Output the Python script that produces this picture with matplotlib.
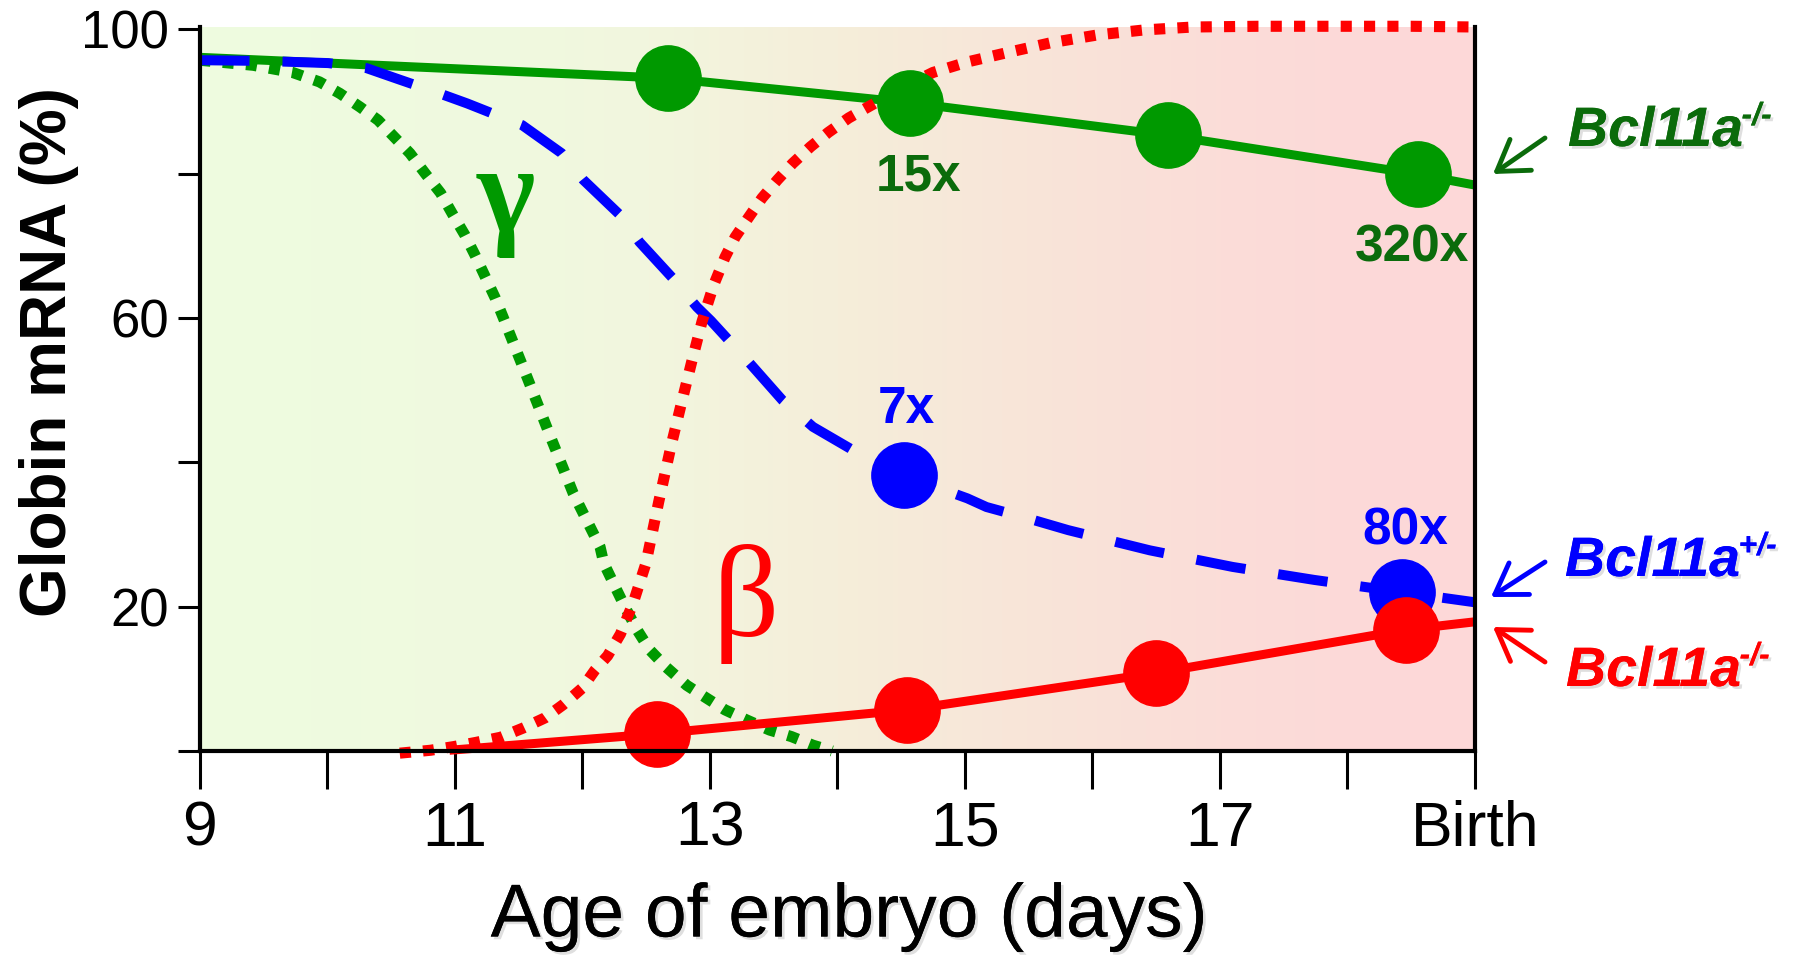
import matplotlib
matplotlib.use("Agg")
import matplotlib.pyplot as plt
import matplotlib.patheffects as pe
from matplotlib.colors import LinearSegmentedColormap
import numpy as np

plt.rcParams['font.family'] = ['Liberation Sans', 'DejaVu Sans']

W, H = 1798, 967

# axes
xticks = [9, 10, 11, 12, 13, 14, 15, 16, 17, 18, 19]
xticklabels = ['9', '', '11', '', '13', '', '15', '', '17', '', 'Birth']
yticks = [0, 20, 40, 60, 80, 100]
yticklabels = ['', '20', '', '60', '', '100']

# wild type gamma globin (green dotted)
wt_gamma_x = [9.0, 9.42, 9.73, 9.94, 10.10, 10.26, 10.40, 10.53, 10.65, 10.77, 10.89,
              10.98, 11.08, 11.16, 11.24, 11.32, 11.38, 11.57, 11.75, 11.93, 12.14,
              12.17, 12.26, 12.34, 12.43, 12.53, 12.66, 12.82, 12.96, 13.12, 13.29,
              13.47, 13.64, 13.81, 13.96]
wt_gamma_y = [95.7, 95.0, 94.0, 92.7, 91.1, 89.2, 87.4, 85.0, 82.8, 80.0, 77.3,
              74.5, 71.5, 68.7, 65.7, 62.7, 60.1, 51.7, 43.6, 35.7, 28.3,
              26.0, 22.7, 19.8, 16.8, 14.0, 11.6, 9.1, 7.5, 5.7, 4.3,
              2.9, 2.0, 0.8, 0.0]

# wild type beta globin (red dotted)
wt_beta_x = [10.57, 10.81, 10.99, 11.17, 11.36, 11.54, 11.71, 11.85, 12.00, 12.10,
             12.20, 12.30, 12.40, 12.50, 12.60, 12.70, 12.78, 12.86, 12.94, 13.03,
             13.12, 13.20, 13.30, 13.41, 13.53, 13.65, 13.79, 13.93, 14.09, 14.24,
             14.50, 14.75, 15.03, 15.32, 15.67, 16.04, 16.41, 16.79, 17.30, 17.89,
             18.50, 19.0]
wt_beta_y = [-0.3, 0.1, 0.6, 1.2, 1.9, 3.2, 4.6, 6.4, 8.7, 11.2,
             13.2, 16.2, 20.5, 26.0, 34.5, 42.5, 48.3, 54.0, 59.5, 64.5,
             68.4, 71.2, 73.8, 76.6, 79.1, 81.4, 83.7, 85.7, 87.7, 89.2,
             91.8, 94.0, 95.5, 96.7, 98.1, 99.2, 99.9, 100.3, 100.4, 100.4,
             100.4, 100.3]

# Bcl11a +/- gamma (blue dashed)
het_x = [9.0, 9.5, 10.01, 10.31, 10.57, 10.85, 11.10, 11.30, 11.53, 11.84, 12.01,
         12.30, 12.45, 12.71, 12.90, 13.01, 13.30, 13.57, 13.81, 14.15, 14.52,
         15.02, 15.17, 15.50, 15.81, 16.45, 17.10, 17.74, 18.43, 19.0]
het_y = [95.7, 95.6, 95.3, 94.6, 93.0, 91.3, 89.7, 88.3, 86.7, 82.8, 79.1,
         74.2, 70.5, 65.5, 61.5, 59.6, 54.0, 48.6, 44.9, 41.4, 38.2,
         35.0, 33.8, 32.2, 30.6, 27.8, 25.5, 23.7, 22.0, 20.6]
het_mx = [14.52, 18.43]
het_my = [38.2, 22.0]

# Bcl11a -/- gamma (green solid)
ko_gamma_x = [9.0, 12.67, 14.57, 16.59, 18.55, 19.0]
ko_gamma_y = [96.1, 93.2, 89.8, 85.3, 79.9, 78.4]
ko_gamma_mx = [12.67, 14.57, 16.59, 18.55]
ko_gamma_my = [93.2, 89.8, 85.3, 79.9]

# Bcl11a -/- beta (red solid)
ko_beta_x = [10.96, 12.59, 14.55, 16.50, 18.46, 19.0]
ko_beta_y = [0.1, 2.4, 5.7, 10.8, 16.8, 17.9]
ko_beta_mx = [12.59, 14.55, 16.50, 18.46]
ko_beta_my = [2.4, 5.7, 10.8, 16.8]

# fold change labels
fold_text = ['15x', '320x', '7x', '80x']
fold_x = [14.64, 18.51, 14.54, 18.45]
fold_y = [79.5, 69.7, 47.3, 30.5]

GREEN = '#009900'
DKGREEN = '#0B6B0B'
BLUE = '#0000FF'
RED = '#FF0000'
fold_colors = [DKGREEN, DKGREEN, BLUE, BLUE]

# background gradient stops (day, colour)
bg_stops = [(9.0, '#EEFCE0'), (11.5, '#F0F9DF'), (12.5, '#F2F6DE'), (14.0, '#F5EEDA'),
            (15.3, '#F8E6D9'), (17.0, '#FBDDD8'), (18.5, '#FDD8D8'), (19.0, '#FDD8D8')]

YTOP = 100.3

fig = plt.figure(figsize=(W / 100, H / 100), dpi=100)
ax = fig.add_axes([199.5 / W, 1 - 751 / H, (1475 - 199.5) / W, (751 - 27) / H])

cmap = LinearSegmentedColormap.from_list(
    'bg', [((d - 9) / 10, c) for d, c in bg_stops])
grad = np.linspace(0, 1, 400).reshape(1, -1)
ax.imshow(grad, cmap=cmap, extent=[9, 19, 0, YTOP], aspect='auto',
          interpolation='bilinear', zorder=0)

ax.plot(ko_gamma_x, ko_gamma_y, color=GREEN, lw=6.5, zorder=2, solid_capstyle='butt')
ax.plot(wt_gamma_x, wt_gamma_y, color=GREEN, lw=8, ls=(0, (1, 1.1)),
        dash_capstyle='butt', zorder=3, clip_on=False)
ax.plot(het_x, het_y, color=BLUE, lw=7.2, ls=(0, (5, 3.3)),
        dash_capstyle='butt', zorder=4)
ax.plot(wt_beta_x, wt_beta_y, color=RED, lw=8, ls=(0, (1, 1.1)),
        dash_capstyle='butt', zorder=5, clip_on=False)
ax.plot(ko_beta_x, ko_beta_y, color=RED, lw=6.5, zorder=6, solid_capstyle='butt',
        clip_on=False)

ax.plot(ko_gamma_mx, ko_gamma_my, 'o', color=GREEN, ms=47, zorder=7)
ax.plot(het_mx, het_my, 'o', color=BLUE, ms=47, zorder=7)
ax.plot(ko_beta_mx, ko_beta_my, 'o', color=RED, ms=47, zorder=8, clip_on=False)

for t, x, y, c in zip(fold_text, fold_x, fold_y, fold_colors):
    ax.text(x, y, t, color=c, fontsize=37, fontweight='bold',
            ha='center', va='center', zorder=9)

ax.text(11.40, 76.2, 'γ', color=GREEN, fontsize=90, fontweight='bold',
        family='Liberation Serif', ha='center', va='center', zorder=9)
ax.text(13.28, 20.3, 'β', color=RED, fontsize=94,
        family='Liberation Serif', ha='center', va='center', zorder=9)

ax.set_xlim(9, 19)
ax.set_ylim(0, YTOP)
ax.set_xticks(xticks)
ax.set_xticklabels(xticklabels)
ax.set_yticks(yticks)
ax.set_yticklabels(yticklabels)
ax.tick_params(axis='x', length=27, width=2.2, direction='out', labelsize=45, pad=8)
ax.tick_params(axis='y', length=16, width=2.2, direction='out', labelsize=38, pad=6)
ax.spines['top'].set_visible(False)
for s in ['left', 'bottom', 'right']:
    ax.spines[s].set_linewidth(3)
    ax.spines[s].set_zorder(10)

shadow = [pe.withSimplePatchShadow(offset=(2, -2), shadow_rgbFace='gray', alpha=0.25),
          pe.Normal()]

fig.text(49 / W, 1 - 352 / H, 'Globin mRNA (%)', rotation=90, fontsize=46,
         fontweight='bold', ha='center', va='center')
fig.text(849 / W, 1 - 917 / H, 'Age of embryo (days)', fontsize=54,
         ha='center', va='center', path_effects=shadow)

# genotype labels with arrows
gen_labels = ['Bcl11a', 'Bcl11a', 'Bcl11a']
gen_sups = ['-/-', '+/-', '-/-']
gen_colors = [DKGREEN, BLUE, RED]
gen_pos = [(1568, 146), (1565, 576), (1566, 686)]
arrow_tail = [(1545, 138), (1545, 562), (1545, 662)]
arrow_head = [(1493, 174), (1491, 597), (1493, 627)]

for lab, sup, c, (px, py), (tx, ty), (hx, hy) in zip(
        gen_labels, gen_sups, gen_colors, gen_pos, arrow_tail, arrow_head):
    t = fig.text(px / W, 1 - py / H, lab, color=c, fontsize=40, fontweight='bold',
                 style='italic', ha='left', va='baseline', path_effects=shadow)
    ax.annotate(sup, xy=(1, 1), xycoords=t, xytext=(-1, 3), textcoords='offset points',
                color=c, fontsize=23, fontweight='bold', style='italic',
                ha='left', va='top', path_effects=shadow, annotation_clip=False)
    ax.annotate('', xy=(hx / W, 1 - hy / H), xycoords='figure fraction',
                xytext=(tx / W, 1 - ty / H), textcoords='figure fraction',
                arrowprops=dict(arrowstyle='->,head_length=0.7,head_width=0.45',
                                color=c, lw=3.5, mutation_scale=30,
                                shrinkA=0, shrinkB=0),
                annotation_clip=False)

fig.savefig('out.png', dpi=100)
